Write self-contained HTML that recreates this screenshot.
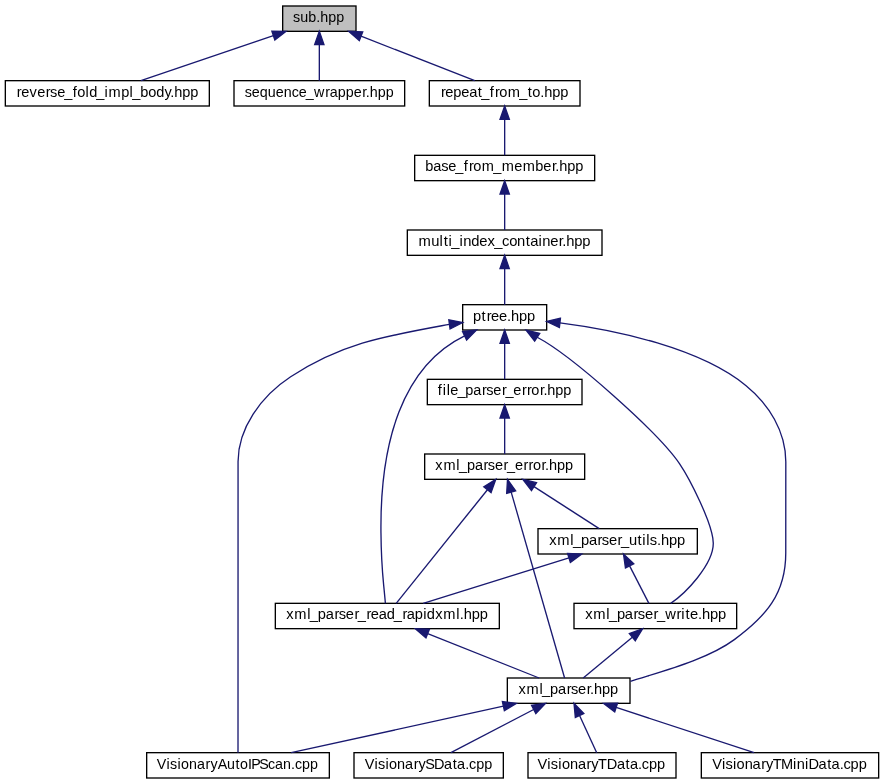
<!DOCTYPE html>
<html><head><meta charset="utf-8"><style>
html,body{margin:0;padding:0;background:#fff;}
svg{display:block;}
svg text{font-family:"Liberation Sans",sans-serif;font-size:13.8px;fill:#000;}
</style></head><body>
<svg width="884" height="784" viewBox="0 0 884 784">
<rect width="884" height="784" fill="#fff"/>
<rect x="282.67" y="6.00" width="73.33" height="25.33" fill="#bfbfbf" stroke="#000" stroke-width="1.333"/>
<rect x="5.33" y="80.67" width="204.00" height="25.33" fill="#fff" stroke="#000" stroke-width="1.333"/>
<rect x="234.00" y="80.67" width="170.67" height="25.33" fill="#fff" stroke="#000" stroke-width="1.333"/>
<rect x="429.33" y="80.67" width="150.67" height="25.33" fill="#fff" stroke="#000" stroke-width="1.333"/>
<rect x="414.67" y="155.33" width="180.00" height="25.33" fill="#fff" stroke="#000" stroke-width="1.333"/>
<rect x="407.33" y="230.00" width="194.67" height="25.33" fill="#fff" stroke="#000" stroke-width="1.333"/>
<rect x="462.67" y="304.67" width="84.00" height="25.33" fill="#fff" stroke="#000" stroke-width="1.333"/>
<rect x="427.33" y="379.33" width="154.67" height="25.33" fill="#fff" stroke="#000" stroke-width="1.333"/>
<rect x="424.67" y="454.00" width="160.00" height="25.33" fill="#fff" stroke="#000" stroke-width="1.333"/>
<rect x="538.00" y="528.67" width="159.33" height="25.33" fill="#fff" stroke="#000" stroke-width="1.333"/>
<rect x="275.33" y="603.33" width="224.00" height="25.33" fill="#fff" stroke="#000" stroke-width="1.333"/>
<rect x="574.00" y="603.33" width="162.67" height="25.33" fill="#fff" stroke="#000" stroke-width="1.333"/>
<rect x="507.33" y="678.00" width="122.67" height="25.33" fill="#fff" stroke="#000" stroke-width="1.333"/>
<rect x="146.67" y="752.67" width="182.67" height="25.33" fill="#fff" stroke="#000" stroke-width="1.333"/>
<rect x="354.00" y="752.67" width="149.33" height="25.33" fill="#fff" stroke="#000" stroke-width="1.333"/>
<rect x="528.00" y="752.67" width="148.00" height="25.33" fill="#fff" stroke="#000" stroke-width="1.333"/>
<rect x="701.33" y="752.67" width="177.33" height="25.33" fill="#fff" stroke="#000" stroke-width="1.333"/>
<g style="will-change:transform"><text transform="scale(1.0385,1)" x="282.25 289.08 296.79 304.48 308.34 316.04 323.75" y="22.00">sub.hpp</text>
<text transform="scale(1.0560,1)" x="15.88 20.03 27.99 35.18 43.35 47.40 54.12 60.78 68.81 73.06 81.05 84.42 91.08 99.04 102.87 114.73 122.71 125.17 132.72 140.30 147.87 155.83 161.15 164.92 172.49 180.07" y="96.67">reverse_fold_impl_body.hpp</text>
<text transform="scale(1.0385,1)" x="235.60 242.44 250.14 257.84 265.55 273.25 280.86 287.70 294.46 302.43 313.31 317.54 325.25 332.95 340.66 348.94 352.21 356.07 363.77 371.47" y="96.67">sequence_wrapper.hpp</text>
<text transform="scale(1.0627,1)" x="414.92 419.02 426.55 434.08 441.60 449.64 452.93 460.92 465.73 469.84 477.81 488.68 496.69 500.89 508.45 512.18 519.71 527.24" y="96.67">repeat_from_to.hpp</text>
<text transform="scale(1.0563,1)" x="402.64 410.21 417.71 424.42 431.07 439.10 443.95 448.09 456.12 467.05 475.05 486.90 494.93 506.79 514.36 522.53 525.74 529.51 537.08 544.65" y="171.33">base_from_member.hpp</text>
<text transform="scale(1.0727,1)" x="390.22 401.92 409.82 413.63 418.21 420.59 428.46 431.75 439.21 446.67 454.51 460.68 468.03 474.64 482.09 490.07 494.21 502.11 505.40 512.86 520.92 524.10 527.77 535.23 542.69" y="246.00">multi_index_container.hpp</text>
<text transform="scale(1.0632,1)" x="444.94 452.97 457.77 461.87 469.40 476.96 480.68 488.21 495.73" y="320.67">ptree.hpp</text>
<text transform="scale(1.0523,1)" x="416.11 420.78 424.59 427.98 434.66 442.24 449.83 458.03 462.11 468.85 477.04 480.28 487.85 496.04 500.80 504.96 513.15 516.38 520.16 527.77 535.37" y="395.33">file_parser_error.hpp</text>
<text transform="scale(1.0521,1)" x="413.80 421.48 433.77 436.25 443.82 451.42 459.62 463.70 470.44 478.63 481.87 489.45 497.64 502.39 506.55 514.75 517.98 521.76 529.37 536.97" y="470.00">xml_parser_error.hpp</text>
<text transform="scale(1.0681,1)" x="514.29 521.82 533.99 536.40 543.86 551.34 559.44 563.44 570.07 578.17 581.34 588.80 596.80 601.40 605.15 608.38 615.06 618.76 626.25 633.74" y="544.67">xml_parser_utils.hpp</text>
<text transform="scale(1.0619,1)" x="269.56 277.15 289.37 291.80 299.31 306.83 314.97 319.00 325.68 333.81 337.00 345.11 349.22 356.75 364.29 370.91 379.01 383.11 390.66 398.61 401.96 409.88 417.47 429.69 433.07 436.80 444.33 451.87" y="619.33">xml_parser_read_rapidxml.hpp</text>
<text transform="scale(1.0688,1)" x="547.63 555.16 567.33 569.73 577.19 584.66 592.76 596.75 603.38 611.47 614.64 622.35 632.99 637.50 641.32 645.49 653.02 656.71 664.20 671.68" y="619.33">xml_parser_write.hpp</text>
<text transform="scale(1.0599,1)" x="489.15 496.76 509.00 511.44 518.96 526.50 534.65 538.69 545.38 553.52 556.73 560.47 568.02 575.57" y="694.00">xml_parser.hpp</text>
<text transform="scale(1.0355,1)" x="151.35 160.70 164.09 171.32 174.81 182.54 190.26 198.56 203.20 210.26 219.23 227.43 231.79 239.50 242.61 250.34 258.73 265.58 273.31 281.02 284.80 291.66 299.38" y="768.67">VisionaryAutoIPScan.cpp</text>
<text transform="scale(1.0501,1)" x="347.43 356.69 360.01 367.16 370.57 378.19 385.80 394.02 398.58 405.04 413.23 422.94 431.06 435.32 442.96 446.67 453.43 461.04" y="768.67">VisionarySData.cpp</text>
<text transform="scale(1.0568,1)" x="508.73 517.95 521.23 528.36 531.73 539.30 546.86 555.03 559.56 565.89 574.11 583.77 591.84 596.07 603.67 607.34 614.05 621.62" y="768.67">VisionaryTData.cpp</text>
<text transform="scale(1.0586,1)" x="672.89 682.10 685.38 692.49 695.85 703.41 710.96 719.12 723.64 729.95 737.87 749.17 752.53 760.51 763.67 773.31 781.37 785.59 793.18 796.84 803.54 811.10" y="768.67">VisionaryTMiniData.cpp</text></g>
<g fill="none" stroke="#191970" stroke-width="1.333">
<path d="M140.90,80.67L273.38,35.63"/>
<path d="M319.33,80.67L319.33,44.67"/>
<path d="M474.80,80.67L361.02,36.19"/>
<path d="M504.67,155.33L504.67,119.33"/>
<path d="M504.67,230.00L504.67,194.00"/>
<path d="M504.67,304.67L504.67,268.67"/>
<path d="M504.67,379.33L504.67,343.33"/>
<path d="M504.67,454.00L504.67,418.00"/>
<path d="M599.20,528.67L534.00,486.57"/>
<path d="M396.20,603.33L487.45,489.73"/>
<path d="M423.20,603.33L568.97,557.96"/>
<path d="M648.90,603.33L629.60,565.85"/>
<path d="M539.10,678.00L427.69,633.60"/>
<path d="M583.20,678.00L632.34,637.19"/>
<path d="M564.60,678.00L511.18,492.15"/>
<path d="M291.20,752.67L503.38,706.19"/>
<path d="M450.90,752.67L533.68,709.50"/>
<path d="M596.70,752.67L579.57,715.45"/>
<path d="M754.10,752.67L616.17,707.48"/>
<path d="M238.00,752.67L238.06,461.50C238.06,428.53 260.74,396.25 290.67,376.76C342.79,342.84 384.82,336.20 449.45,324.36"/>
<path d="M385.40,603.33C382.48,570.76 380.93,566.68 380.93,526.49C380.93,444.68 401.07,366.58 464.60,335.81"/>
<path d="M670.70,603.33C685.34,593.48 713.28,564.88 713.28,543.36C713.28,524.18 688.78,477.25 679.80,464.02C658.54,432.68 571.89,355.45 537.19,337.25"/>
<path d="M630.40,681.40C660.42,671.68 706.97,659.90 734.33,639.65C766.33,615.97 785.76,593.61 785.76,553.05L785.81,461.81C785.81,431.04 768.73,404.33 746.09,385.73C700.42,348.23 617.10,330.19 559.92,322.90"/>
</g>
<g fill="#191970" stroke="#191970" stroke-width="1.333" stroke-miterlimit="10">
<polygon points="274.88,40.04 286.00,31.33 271.87,31.21"/>
<polygon points="324.00,44.67 319.33,31.33 314.67,44.67"/>
<polygon points="362.72,31.84 348.60,31.33 359.32,40.53"/>
<polygon points="509.33,119.33 504.67,106.00 500.00,119.33"/>
<polygon points="509.33,194.00 504.67,180.67 500.00,194.00"/>
<polygon points="509.33,268.67 504.67,255.33 500.00,268.67"/>
<polygon points="509.33,343.33 504.67,330.00 500.00,343.33"/>
<polygon points="509.33,418.00 504.67,404.67 500.00,418.00"/>
<polygon points="536.53,482.65 522.80,479.33 531.47,490.49"/>
<polygon points="491.09,492.65 495.80,479.33 483.81,486.81"/>
<polygon points="570.36,562.42 581.70,554.00 567.58,553.51"/>
<polygon points="633.75,563.72 623.50,554.00 625.45,567.99"/>
<polygon points="429.41,629.27 415.30,628.67 425.96,637.94"/>
<polygon points="635.32,640.78 642.60,628.67 629.36,633.60"/>
<polygon points="515.67,490.86 507.50,479.33 506.70,493.44"/>
<polygon points="504.37,710.75 516.40,703.33 502.38,701.63"/>
<polygon points="535.84,713.64 545.50,703.33 531.52,705.36"/>
<polygon points="583.81,713.50 574.00,703.33 575.33,717.40"/>
<polygon points="617.62,703.05 603.50,703.33 614.72,711.92"/>
<polygon points="450.06,328.98 462.67,322.60 448.83,319.73"/>
<polygon points="466.63,340.01 476.60,330.00 462.57,331.61"/>
<polygon points="539.73,333.33 526.00,330.00 534.66,341.16"/>
<polygon points="560.44,318.26 546.67,321.40 559.39,327.54"/>
</g>
</svg>
</body></html>
